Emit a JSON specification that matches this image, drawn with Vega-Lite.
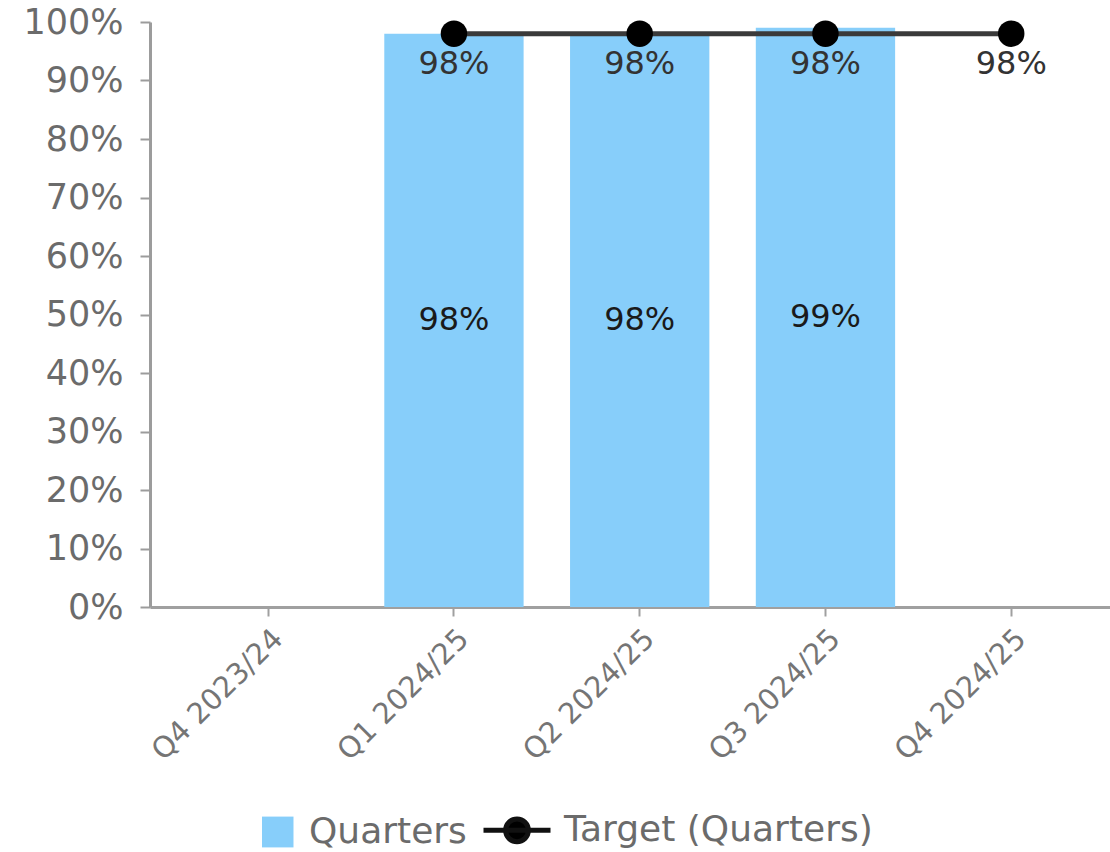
{
  "$schema": "https://vega.github.io/schema/vega-lite/v6.json",
  "width": 960,
  "height": 585,
  "autosize": {"type": "none"},
  "padding": {"left": 150, "top": 22, "right": 0, "bottom": 245},
  "background": "white",
  "config": {
    "view": {"stroke": null},
    "font": "DejaVu Sans",
    "axis": {"grid": false, "title": null}
  },
  "data": {
    "values": [
      {"quarter": "Q4 2023/24", "actual": null, "target": null},
      {"quarter": "Q1 2024/25", "actual": 0.98, "target": 0.98},
      {"quarter": "Q2 2024/25", "actual": 0.98, "target": 0.98},
      {"quarter": "Q3 2024/25", "actual": 0.99, "target": 0.98},
      {"quarter": "Q4 2024/25", "actual": null, "target": 0.98}
    ]
  },
  "encoding": {
    "x": {
      "field": "quarter",
      "type": "nominal",
      "sort": null,
      "scale": {
        "domain": ["Q4 2023/24", "Q1 2024/25", "Q2 2024/25", "Q3 2024/25", "Q4 2024/25"],
        "paddingInner": 0.25,
        "paddingOuter": 0.209,
        "align": 0.625
      },
      "axis": {
        "labelAngle": -45,
        "labelFontSize": 29,
        "labelColor": "#757575",
        "labelPadding": 8,
        "tickSize": 9,
        "tickWidth": 2,
        "tickColor": "#a0a0a0",
        "domainColor": "#a0a0a0",
        "domainWidth": 3,
        "labelLimit": 400
      }
    }
  },
  "layer": [
    {
      "layer": [
        {
          "mark": {"type": "bar"},
          "encoding": {
            "y": {
              "field": "actual",
              "type": "quantitative",
              "scale": {"domain": [0, 1]},
              "axis": {
                "values": [0, 0.1, 0.2, 0.3, 0.4, 0.5, 0.6, 0.7, 0.8, 0.9, 1],
                "format": ".0%",
                "labelFontSize": 35,
                "labelColor": "#6b6b6b",
                "labelPadding": 17,
                "tickSize": 10,
                "tickWidth": 2,
                "tickColor": "#9c9c9c",
                "domainColor": "#9c9c9c",
                "domainWidth": 3
              }
            },
            "color": {
              "datum": "Quarters",
              "type": "nominal",
              "scale": {
                "domain": ["Quarters", "Target (Quarters)"],
                "range": ["#87CEFA", "#000000"]
              },
              "legend": {
                "orient": "none",
                "legendX": 94,
                "legendY": 790,
                "direction": "horizontal",
                "title": null,
                "padding": 0,
                "labelFontSize": 36,
                "labelColor": "#6b6b6b",
                "labelLimit": 500,
                "labelOffset": 29,
                "columnPadding": 6,
                "symbolSize": 4489,
                "encode": {
                  "symbols": {
                    "update": {
                      "shape": {"signal": "datum.value === 'Quarters' ? 'M0,-0.46H0.94V0.46H0Z' : 'M-1,0H1M0.34,0A0.34,0.34,0,1,1,-0.34,0A0.34,0.34,0,1,1,0.34,0Z'"},
                      "fill": {"signal": "datum.value === 'Quarters' ? '#87CEFA' : '#000000'"},
                      "stroke": {"signal": "datum.value === 'Quarters' ? '#87CEFA' : '#111111'"},
                      "strokeWidth": {"signal": "datum.value === 'Quarters' ? 0 : 5"},
                      "opacity": {"value": 1},
                      "fillOpacity": {"value": 1},
                      "strokeOpacity": {"value": 1}
                    }
                  }
                }
              }
            }
          }
        },
        {
          "mark": {"type": "line", "color": "#3a3a3a", "strokeWidth": 5},
          "encoding": {
            "y": {"field": "target", "type": "quantitative"}
          }
        },
        {
          "mark": {"type": "point", "filled": true, "size": 700, "opacity": 1},
          "encoding": {
            "y": {"field": "target", "type": "quantitative"},
            "color": {"datum": "Target (Quarters)", "type": "nominal"}
          }
        },
        {
          "mark": {"type": "text", "fontSize": 32, "color": "#333333", "dy": 30},
          "encoding": {
            "y": {"field": "target", "type": "quantitative"},
            "text": {"field": "target", "type": "quantitative", "format": ".0%"}
          }
        }
      ]
    },
    {
      "mark": {"type": "text", "fontSize": 32, "color": "#1a1a1a"},
      "encoding": {
        "y": {
          "field": "actual",
          "type": "quantitative",
          "scale": {"domain": [0, 2]},
          "axis": null
        },
        "text": {"field": "actual", "type": "quantitative", "format": ".0%"}
      }
    }
  ],
  "resolve": {"scale": {"y": "independent"}}
}
